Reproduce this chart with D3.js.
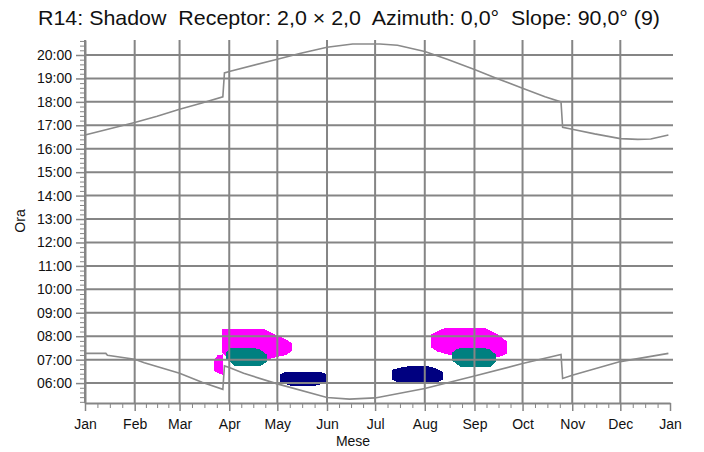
<!DOCTYPE html>
<html>
<head>
<meta charset="utf-8">
<script src="https://cdn.jsdelivr.net/npm/d3@7"></script>
<style>
  html, body { margin: 0; padding: 0; background: #fff; }
  svg { display: block; font-family: "Liberation Sans", Arial, sans-serif; }
  .title { white-space: pre; }
</style>
</head>
<body>
<svg id="chart" width="704" height="452"></svg>
<script>
// Axis labels
const monthLabels = ["Jan", "Feb", "Mar", "Apr", "May", "Jun", "Jul", "Aug", "Sep", "Oct", "Nov", "Dec", "Jan"];
const hourLabels = ["06:00", "07:00", "08:00", "09:00", "10:00", "11:00", "12:00", "13:00",
                    "14:00", "15:00", "16:00", "17:00", "18:00", "19:00", "20:00"];

// Sunset time (local clock, with DST jumps)
const sunset = [
  ["01-01", "16:35"], ["02-01", "17:07"], ["02-15", "17:23"], ["03-01", "17:41"],
  ["03-15", "17:57"], ["03-28", "18:13"], ["03-29", "19:14"], ["04-01", "19:18"],
  ["05-01", "19:49"], ["05-15", "20:04"], ["06-01", "20:20"], ["06-17", "20:28"],
  ["07-04", "20:28"], ["07-15", "20:25"], ["08-01", "20:09"], ["08-15", "19:49"],
  ["09-01", "19:23"], ["09-15", "19:00"], ["10-01", "18:35"], ["10-15", "18:13"],
  ["10-25", "18:00"], ["10-26", "16:55"], ["11-01", "16:50"], ["11-15", "16:38"],
  ["12-01", "16:26"], ["12-12", "16:24"], ["12-20", "16:25"], ["12-31", "16:35"]
];

// Sunrise time (local clock, with DST jumps)
const sunrise = [
  ["01-01", "07:16"], ["01-14", "07:16"], ["01-15", "07:11"], ["02-01", "07:01"],
  ["02-07", "06:52"], ["03-01", "06:25"], ["03-15", "06:02"], ["03-28", "05:44"],
  ["03-29", "06:44"], ["04-01", "06:40"], ["04-10", "06:25"], ["05-01", "05:58"],
  ["06-01", "05:23"], ["06-15", "05:19"], ["07-01", "05:22"], ["08-01", "05:46"],
  ["09-01", "06:18"], ["10-01", "06:50"], ["10-25", "07:13"], ["10-26", "06:12"],
  ["11-01", "06:20"], ["12-01", "06:55"], ["12-31", "07:16"]
];

// Shadow periods: [day, shadow start, shadow end]
const shadowMagentaEarly = [
  ["03-23", "06:32", "06:58"], ["03-25", "06:27", "07:11"], ["03-28", "06:23", "07:12"]
];
const shadowMagentaSpring = [
  ["03-28", "07:19", "08:17"], ["04-01", "07:03", "08:17"], ["04-23", "07:00", "08:17"],
  ["04-30", "07:07", "08:02"], ["05-07", "07:14", "07:49"], ["05-10", "07:25", "07:41"]
];
const shadowTealSpring = [
  ["03-30", "07:02", "07:17"], ["04-02", "06:54", "07:28"], ["04-05", "06:44", "07:28"],
  ["04-17", "06:44", "07:28"], ["04-20", "06:45", "07:25"], ["04-24", "06:54", "07:13"]
];
const shadowNavySpring = [
  ["05-03", "06:04", "06:22"], ["05-07", "05:58", "06:28"], ["05-10", "05:54", "06:28"],
  ["05-24", "05:54", "06:28"], ["05-28", "05:58", "06:28"], ["05-31", "06:04", "06:22"]
];
const shadowNavySummer = [
  ["07-12", "06:10", "06:33"], ["07-16", "06:01", "06:38"], ["07-22", "06:00", "06:42"],
  ["08-03", "06:00", "06:42"], ["08-08", "06:01", "06:36"], ["08-12", "06:10", "06:28"]
];
const shadowMagentaSummer = [
  ["08-05", "07:33", "08:03"], ["08-09", "07:22", "08:12"], ["08-14", "07:16", "08:20"],
  ["08-18", "07:12", "08:20"], ["09-07", "07:05", "08:20"], ["09-14", "07:08", "08:07"],
  ["09-17", "07:09", "07:58"], ["09-21", "07:16", "07:46"]
];
const shadowTealSummer = [
  ["08-18", "06:59", "07:16"], ["08-21", "06:50", "07:25"], ["08-24", "06:42", "07:29"],
  ["09-07", "06:42", "07:29"], ["09-11", "06:42", "07:24"], ["09-14", "06:55", "07:12"]
];

const YEAR = 2021;
const parseDay = s => { const [m, d] = s.split("-").map(Number); return new Date(Date.UTC(YEAR, m - 1, d)); };
const parseTime = s => { const [h, m] = s.split(":").map(Number); return h + m / 60; };

const svg = d3.select("#chart");
const GRID = "#858585";

const plotLeft = 85, plotRight = 670, plotTop = 40, plotBottom = 403;
const x = d3.scaleUtc()
  .domain([new Date(Date.UTC(YEAR, 0, 1)), new Date(Date.UTC(YEAR + 1, 0, 1))])
  .range([plotLeft, plotRight]);
const y = d3.scaleLinear().domain([5.15, 20.64]).range([plotBottom, plotTop]);

// Shadow patches
const area = d3.area()
  .x(d => x(parseDay(d[0])))
  .y0(d => y(parseTime(d[1])))
  .y1(d => y(parseTime(d[2])));

const patches = [
  [shadowMagentaEarly, "#ff00ff"],
  [shadowMagentaSpring, "#ff00ff"],
  [shadowMagentaSummer, "#ff00ff"],
  [shadowTealSpring, "#008080"],
  [shadowTealSummer, "#008080"],
  [shadowNavySpring, "#000080"],
  [shadowNavySummer, "#000080"]
];
svg.append("g").selectAll("path").data(patches).join("path")
  .attr("d", d => area(d[0]))
  .attr("fill", d => d[1])
  .attr("stroke", d => d[1])
  .attr("stroke-width", 1)
  .attr("shape-rendering", "crispEdges");

// Grid
const monthStarts = d3.utcMonth.range(new Date(Date.UTC(YEAR, 0, 1)), new Date(Date.UTC(YEAR + 1, 0, 2)));
const hourValues = hourLabels.map(parseTime);

const grid = svg.append("g").attr("stroke", GRID).attr("stroke-width", 2);
grid.selectAll("line.v").data(monthStarts.slice(0, 12)).join("line")
  .attr("class", "v")
  .attr("x1", d => x(d)).attr("x2", d => x(d))
  .attr("y1", plotTop).attr("y2", plotBottom);
grid.selectAll("line.h").data(hourValues).join("line")
  .attr("class", "h")
  .attr("x1", plotLeft).attr("x2", plotRight + 3)
  .attr("y1", d => y(d)).attr("y2", d => y(d));

// Sunrise / sunset curves
const line = d3.line()
  .x(d => x(parseDay(d[0])))
  .y(d => y(parseTime(d[1])));
svg.append("g").selectAll("path").data([sunset, sunrise]).join("path")
  .attr("d", line)
  .attr("fill", "none")
  .attr("stroke", "#8a8a8a")
  .attr("stroke-width", 1.6);

// Minor ticks
const minorX = [];
for (let i = 0; i < 12; i++) {
  const a = +monthStarts[i], b = +monthStarts[i + 1];
  for (let k = 1; k < 4; k++) minorX.push(new Date(a + (b - a) * k / 4));
}
const minorY = d3.range(26, 104).map(k => k * 0.2).filter(v => Math.abs(v - Math.round(v)) > 1e-6);

const styleAxis = g => {
  g.select(".domain").attr("stroke", GRID).attr("stroke-width", 2);
  g.selectAll(".tick line").attr("stroke", GRID).attr("stroke-width", 1.5);
  g.selectAll(".tick text").attr("fill", "#111").attr("font-size", 14)
    .attr("font-family", "'Liberation Sans', Arial, sans-serif");
};

svg.append("g").attr("transform", `translate(0,${plotBottom})`)
  .call(d3.axisBottom(x).tickValues(minorX).tickSize(5).tickFormat(""))
  .call(g => { g.select(".domain").remove(); g.selectAll(".tick line").attr("stroke", GRID).attr("stroke-width", 1); });

svg.append("g").attr("transform", `translate(${plotLeft},0)`)
  .call(d3.axisLeft(y).tickValues(minorY).tickSize(5).tickFormat(""))
  .call(g => { g.select(".domain").remove(); g.selectAll(".tick line").attr("stroke", GRID).attr("stroke-width", 1); });

svg.append("g").attr("transform", `translate(0,${plotBottom})`)
  .call(d3.axisBottom(x).tickValues(monthStarts).tickSize(8).tickSizeOuter(0).tickPadding(8)
    .tickFormat((d, i) => monthLabels[i]))
  .call(styleAxis);

svg.append("g").attr("transform", `translate(${plotLeft},0)`)
  .call(d3.axisLeft(y).tickValues(hourValues).tickSize(9).tickSizeOuter(0).tickPadding(4)
    .tickFormat((d, i) => hourLabels[i]))
  .call(styleAxis);

// Titles
svg.append("text")
  .attr("class", "title")
  .attr("x", 349).attr("y", 25)
  .attr("text-anchor", "middle")
  .attr("font-size", 21)
  .attr("fill", "#111")
  .attr("textLength", 622)
  .attr("lengthAdjust", "spacingAndGlyphs")
  .text("R14: Shadow  Receptor: 2,0 × 2,0  Azimuth: 0,0°  Slope: 90,0° (9)");

svg.append("text")
  .attr("x", 353).attr("y", 446)
  .attr("text-anchor", "middle")
  .attr("font-size", 14)
  .attr("fill", "#111")
  .text("Mese");

svg.append("text")
  .attr("transform", "translate(25,221) rotate(-90)")
  .attr("text-anchor", "middle")
  .attr("font-size", 14)
  .attr("fill", "#111")
  .text("Ora");
</script>
</body>
</html>
